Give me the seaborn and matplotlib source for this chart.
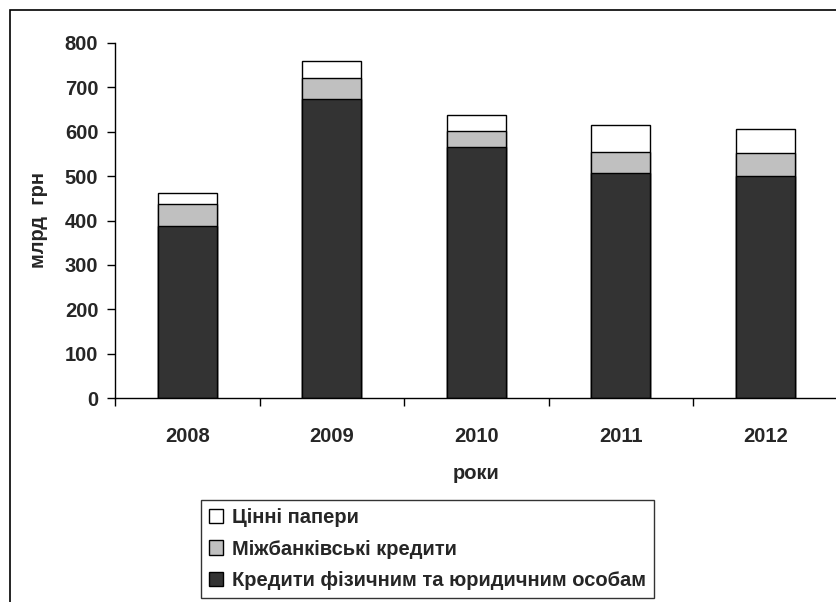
import matplotlib
matplotlib.use("Agg")
import matplotlib.pyplot as plt
import matplotlib.patches as mpatches
import seaborn as sns
import pandas as pd
import numpy as np

years = ['2008', '2009', '2010', '2011', '2012']
credits = [388, 674, 565, 506, 500]
interbank = [49, 48, 37, 48, 51]
securities = [24, 38, 35, 62, 55]
yticks = [0, 100, 200, 300, 400, 500, 600, 700, 800]
labels = ['Цінні папери', 'Міжбанківські кредити', 'Кредити фізичним та юридичним особам']
colors = ['#ffffff', '#c0c0c0', '#333333']

sns.set_theme(style='white')
plt.rcParams['font.family'] = ['Liberation Sans', 'DejaVu Sans']
plt.rcParams['font.weight'] = 'bold'

FS = 14.5

df = pd.DataFrame({'year': years, 'credits': credits,
                   'interbank': interbank, 'securities': securities})
df['l1'] = df['credits']
df['l2'] = df['credits'] + df['interbank']
df['l3'] = df['l2'] + df['securities']

fig = plt.figure(figsize=(8.36, 6.02), dpi=100)
W, H = 836, 602
ax = fig.add_axes([115 / W, 1 - 398 / H, (837.5 - 115) / W, 355 / H])

for col, c in zip(['l3', 'l2', 'l1'], colors):
    sns.barplot(data=df, x='year', y=col, color=c, ax=ax, width=0.41,
                edgecolor='black', linewidth=1.0, saturation=1)

ax.set_xlim(-0.5, 4.5)
ax.set_ylim(0, 800)
ax.set_yticks(yticks)
ax.set_yticklabels([str(v) for v in yticks], fontsize=FS, fontweight='bold')
ax.set_xticks(range(len(years)))
ax.set_xticklabels(years, fontsize=FS, fontweight='bold')
ax.set_xticks(np.arange(-0.5, 5.0, 1.0), minor=True)
ax.tick_params(axis='x', which='major', length=0, pad=21)
ax.tick_params(axis='x', which='minor', length=6, width=1, color='black', direction='out', bottom=True)
ax.tick_params(axis='y', which='major', length=6, width=1, color='black', direction='out', left=True, pad=6)
for s in ['top', 'right']:
    ax.spines[s].set_visible(False)
for s in ['left', 'bottom']:
    ax.spines[s].set_color('black')
    ax.spines[s].set_linewidth(1.0)
ax.set_xlabel('роки', fontsize=FS, fontweight='bold', labelpad=13)
ax.set_ylabel('млрд  грн', fontsize=FS, fontweight='bold', labelpad=12)

handles = [mpatches.Patch(facecolor=c, edgecolor='black', linewidth=1) for c in colors]
leg = fig.legend(handles, labels, loc='upper left', bbox_to_anchor=(201 / W, 1 - 500 / H),
                 fontsize=FS, frameon=True, fancybox=False, handlelength=0.7, handleheight=0.7,
                 handletextpad=0.45, labelspacing=0.62, borderpad=0.4, borderaxespad=0)
leg.get_frame().set_edgecolor('black')
leg.get_frame().set_linewidth(1.0)
for t in leg.get_texts():
    t.set_fontweight('bold')

border = mpatches.Rectangle((9.5 / W, -0.1), 1.0, 1.1 - 9.5 / H, transform=fig.transFigure,
                            fill=False, edgecolor='black', linewidth=1.2, clip_on=False)
fig.patches.append(border)

fig.savefig('out.png', dpi=100)
